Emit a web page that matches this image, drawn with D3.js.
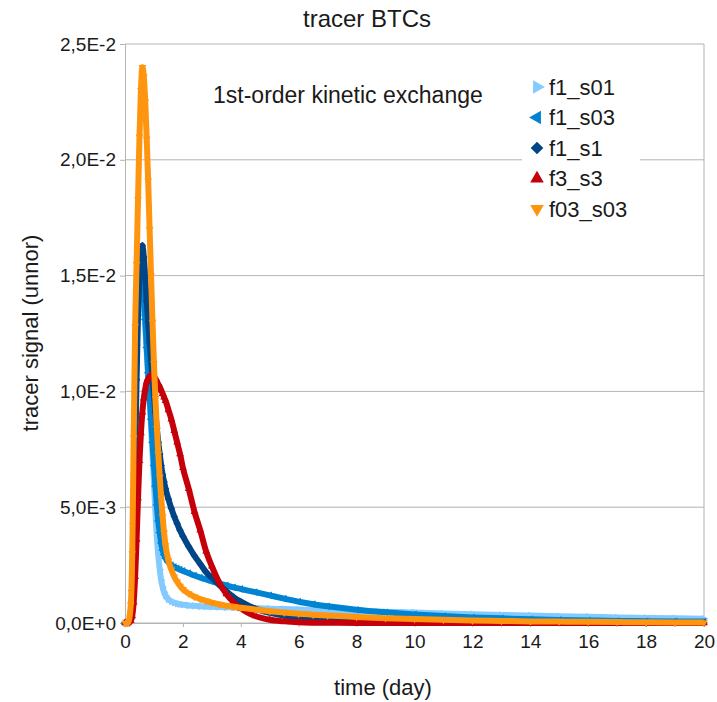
<!DOCTYPE html>
<html>
<head>
<meta charset="utf-8">
<script src="https://cdn.jsdelivr.net/npm/d3@7"></script>
<style>
    body { margin: 0; background: #ffffff; }
    svg { font-family: "Liberation Sans", Arial, sans-serif; }
</style>
</head>
<body>
<svg id="drawing_region"></svg>
<script>
// time (day)
const time = [0, 0.1, 0.2, 0.25, 0.3, 0.35, 0.4, 0.45, 0.5, 0.55,
    0.6, 0.65, 0.7, 0.75, 0.8, 0.85, 0.9, 0.95, 1.0, 1.05,
    1.1, 1.15, 1.2, 1.25, 1.3, 1.35, 1.4, 1.5, 1.6, 1.7,
    1.8, 1.9, 2.0, 2.2, 2.4, 2.6, 2.8, 3.0, 3.25, 3.5,
    3.75, 4.0, 4.5, 5.0, 5.5, 6.0, 6.5, 7.0, 8.0, 9.0,
    10, 11, 12, 13, 14, 15, 16, 17, 18, 19,
    20];

// tracer signal in units of 1E-3
const f1_s01 = [0, 0, 0.3, 1.5, 4.5, 8.5, 12.0, 14.0, 14.8, 14.9,
    14.5, 13.7, 12.8, 11.7, 10.6, 9.6, 8.5, 7.3, 6.0, 4.8,
    3.7, 2.9, 2.3, 1.85, 1.55, 1.33, 1.18, 1.02, 0.93, 0.88,
    0.84, 0.81, 0.79, 0.76, 0.74, 0.72, 0.71, 0.70, 0.69, 0.68,
    0.67, 0.66, 0.64, 0.62, 0.60, 0.58, 0.56, 0.54, 0.51, 0.48,
    0.45, 0.41, 0.38, 0.35, 0.32, 0.29, 0.27, 0.24, 0.22, 0.20,
    0.18];

const f1_s03 = [0, 0, 0.3, 1.4, 4.3, 8.3, 12.0, 14.3, 15.3, 15.5,
    15.1, 14.2, 13.1, 11.9, 10.8, 9.8, 8.8, 7.8, 6.8, 5.9,
    5.1, 4.4, 3.9, 3.45, 3.15, 2.95, 2.8, 2.62, 2.5, 2.42,
    2.36, 2.3, 2.25, 2.15, 2.05, 1.96, 1.88, 1.80, 1.71, 1.62,
    1.54, 1.47, 1.33, 1.19, 1.05, 0.92, 0.81, 0.72, 0.57, 0.46,
    0.37, 0.30, 0.24, 0.20, 0.16, 0.13, 0.11, 0.09, 0.08, 0.07,
    0.06];

const f1_s1 = [0, 0, 0.2, 1.2, 3.5, 7.0, 10.5, 13.3, 15.2, 16.1,
    16.3, 15.8, 14.9, 13.9, 13.0, 12.1, 11.3, 10.5, 9.8, 9.1,
    8.4, 7.8, 7.3, 6.8, 6.4, 6.1, 5.8, 5.35, 4.95, 4.6,
    4.3, 4.0, 3.75, 3.3, 2.9, 2.55, 2.2, 1.95, 1.65, 1.37,
    1.12, 0.92, 0.62, 0.44, 0.32, 0.23, 0.17, 0.12, 0.07, 0.05,
    0.035, 0.025, 0.02, 0.015, 0.01, 0.01, 0.01, 0.005, 0.005, 0.005,
    0.005];

const f3_s3 = [0, 0, 0.1, 0.3, 0.9, 2.0, 3.6, 5.4, 7.0, 8.2,
    9.1, 9.7, 10.1, 10.4, 10.55, 10.65, 10.7, 10.7, 10.65, 10.55,
    10.45, 10.3, 10.2, 10.05, 9.9, 9.75, 9.6, 9.2, 8.8, 8.3,
    7.8, 7.3, 6.7, 5.8, 4.8, 4.0, 3.1, 2.45, 1.75, 1.25,
    0.9, 0.63, 0.3, 0.14, 0.07, 0.03, 0.015, 0.01, 0, 0,
    0, 0, 0, 0, 0, 0, 0, 0, 0, 0,
    0];

const f03_s03 = [0, 0, 0.8, 3.0, 8.0, 12.8, 15.5, 18.3, 21.0, 23.0,
    24.0, 23.6, 22.5, 20.9, 19.1, 17.0, 15.0, 13.0, 11.2, 9.7,
    8.4, 7.3, 6.3, 5.4, 4.6, 3.9, 3.35, 2.7, 2.3, 2.0,
    1.78, 1.6, 1.46, 1.27, 1.13, 1.03, 0.95, 0.88, 0.81, 0.75,
    0.70, 0.66, 0.58, 0.51, 0.45, 0.40, 0.36, 0.32, 0.26, 0.21,
    0.17, 0.14, 0.11, 0.09, 0.07, 0.06, 0.05, 0.04, 0.03, 0.025,
    0.02];

const seriesNames = ["f1_s01", "f1_s03", "f1_s1", "f3_s3", "f03_s03"];
const seriesValues = [f1_s01, f1_s03, f1_s1, f3_s3, f03_s03];

const xTicks = [0, 2, 4, 6, 8, 10, 12, 14, 16, 18, 20];
const yTicks = [0, 0.005, 0.01, 0.015, 0.02, 0.025];
const yTickLabels = ["0,0E+0", "5,0E-3", "1,0E-2", "1,5E-2", "2,0E-2", "2,5E-2"];

var config = {
    parent: '#drawing_region',
    width: 717,
    height: 702,
    margin: {top: 44, right: 13, bottom: 79, left: 125},
    title: 'tracer BTCs',
    xlabel: 'time (day)',
    ylabel: 'tracer signal (unnor)',
    note: '1st-order kinetic exchange',
};

// marker look for each series (same order as seriesNames)
const markerStyles = [
    {color: '#83caff', symbol: d3.symbolTriangle, rotate: 90},
    {color: '#0084d1', symbol: d3.symbolTriangle, rotate: -90},
    {color: '#004586', symbol: d3.symbolSquare, rotate: 45},
    {color: '#c5000b', symbol: d3.symbolTriangle, rotate: 0},
    {color: '#ff950e', symbol: d3.symbolTriangle, rotate: 180},
];

const data = seriesNames.map((name, i) => ({
    name: name,
    style: markerStyles[i],
    points: time.map((t, j) => ({t: t, v: seriesValues[i][j] * 1e-3})),
}));

class ScatterChart {
    constructor(config, data) {
        this.config = config;
        this.data = data;
        this.init();
    }

    init() {
        let self = this;
        const m = self.config.margin;
        self.inner_width = self.config.width - m.left - m.right;
        self.inner_height = self.config.height - m.top - m.bottom;

        self.svg = d3.select(self.config.parent)
            .attr('width', self.config.width)
            .attr('height', self.config.height);

        self.chart = self.svg.append('g')
            .attr('transform', `translate(${m.left}, ${m.top})`);

        self.xscale = d3.scaleLinear().domain([0, 20]).range([0, self.inner_width]);
        self.yscale = d3.scaleLinear().domain([0, 0.025]).range([self.inner_height, 0]);
    }

    render() {
        let self = this;
        const grey = '#b3b3b3';

        // horizontal grid lines
        self.chart.append('g')
            .selectAll('line')
            .data(yTicks)
            .join('line')
            .attr('x1', 0)
            .attr('x2', self.inner_width)
            .attr('y1', d => self.yscale(d))
            .attr('y2', d => self.yscale(d))
            .attr('stroke', grey);

        // right border
        self.chart.append('line')
            .attr('x1', self.inner_width).attr('x2', self.inner_width)
            .attr('y1', 0).attr('y2', self.inner_height)
            .attr('stroke', grey);

        const yaxis = d3.axisLeft(self.yscale)
            .tickValues(yTicks)
            .tickFormat((d, i) => yTickLabels[i])
            .tickSize(5)
            .tickSizeOuter(0)
            .tickPadding(4);

        const xaxis = d3.axisBottom(self.xscale)
            .tickValues(xTicks)
            .tickSize(4)
            .tickSizeOuter(0)
            .tickPadding(8);

        const yg = self.chart.append('g').call(yaxis);
        const xg = self.chart.append('g')
            .attr('transform', `translate(0, ${self.inner_height})`)
            .call(xaxis);

        [xg, yg].forEach(g => {
            g.selectAll('path, line').attr('stroke', grey);
            g.selectAll('text')
                .attr('fill', '#1a1a1a')
                .style('font-size', '19px')
                .style('font-family', '"Liberation Sans", Arial, sans-serif');
        });

        // legend box (drawn before the series, the marks are above it)
        const legend = self.chart.append('g')
            .attr('transform', `translate(${522 - self.config.margin.left}, ${68 - self.config.margin.top})`);
        legend.append('rect')
            .attr('width', 118)
            .attr('height', 157)
            .attr('fill', '#ffffff');

        const line = d3.line()
            .x(d => self.xscale(d.t))
            .y(d => self.yscale(d.v))
            .curve(d3.curveMonotoneX);

        const series = self.chart.selectAll('.series')
            .data(self.data)
            .join('g')
            .attr('class', 'series');

        series.append('path')
            .attr('d', d => line(d.points))
            .attr('fill', 'none')
            .attr('stroke', d => d.style.color)
            .attr('stroke-width', 6)
            .attr('stroke-linejoin', 'round');

        series.each(function(s) {
            const sym = d3.symbol().type(s.style.symbol).size(s.style.symbol === d3.symbolSquare ? 28 : 26);
            d3.select(this).selectAll('path.mark')
                .data(s.points)
                .join('path')
                .attr('class', 'mark')
                .attr('d', sym)
                .attr('fill', s.style.color)
                .attr('transform', d => `translate(${self.xscale(d.t)}, ${self.yscale(d.v)}) rotate(${s.style.rotate})`);
        });

        // legend entries
        const entry = legend.selectAll('.entry')
            .data(self.data)
            .join('g')
            .attr('class', 'entry')
            .attr('transform', (d, i) => `translate(0, ${19 + i * 30.5})`);

        entry.append('path')
            .attr('d', d => d3.symbol().type(d.style.symbol).size(80)())
            .attr('fill', d => d.style.color)
            .attr('transform', d => `translate(15, 0) rotate(${d.style.rotate})`);

        entry.append('text')
            .attr('x', 27)
            .attr('dy', '0.36em')
            .attr('fill', '#1a1a1a')
            .style('font-size', '22px')
            .text(d => d.name);

        // titles
        self.svg.append('text')
            .attr('x', 367)
            .attr('y', 27)
            .attr('text-anchor', 'middle')
            .attr('fill', '#1a1a1a')
            .style('font-size', '24px')
            .text(self.config.title);

        self.svg.append('text')
            .attr('x', 213)
            .attr('y', 103)
            .attr('fill', '#1a1a1a')
            .style('font-size', '23px')
            .text(self.config.note);

        self.svg.append('text')
            .attr('x', 383)
            .attr('y', 695)
            .attr('text-anchor', 'middle')
            .attr('fill', '#1a1a1a')
            .style('font-size', '22px')
            .text(self.config.xlabel);

        self.svg.append('text')
            .attr('transform', 'translate(38, 333) rotate(-90)')
            .attr('text-anchor', 'middle')
            .attr('fill', '#1a1a1a')
            .style('font-size', '22px')
            .text(self.config.ylabel);
    }
}

const chart = new ScatterChart(config, data);
chart.render();
</script>
</body>
</html>
